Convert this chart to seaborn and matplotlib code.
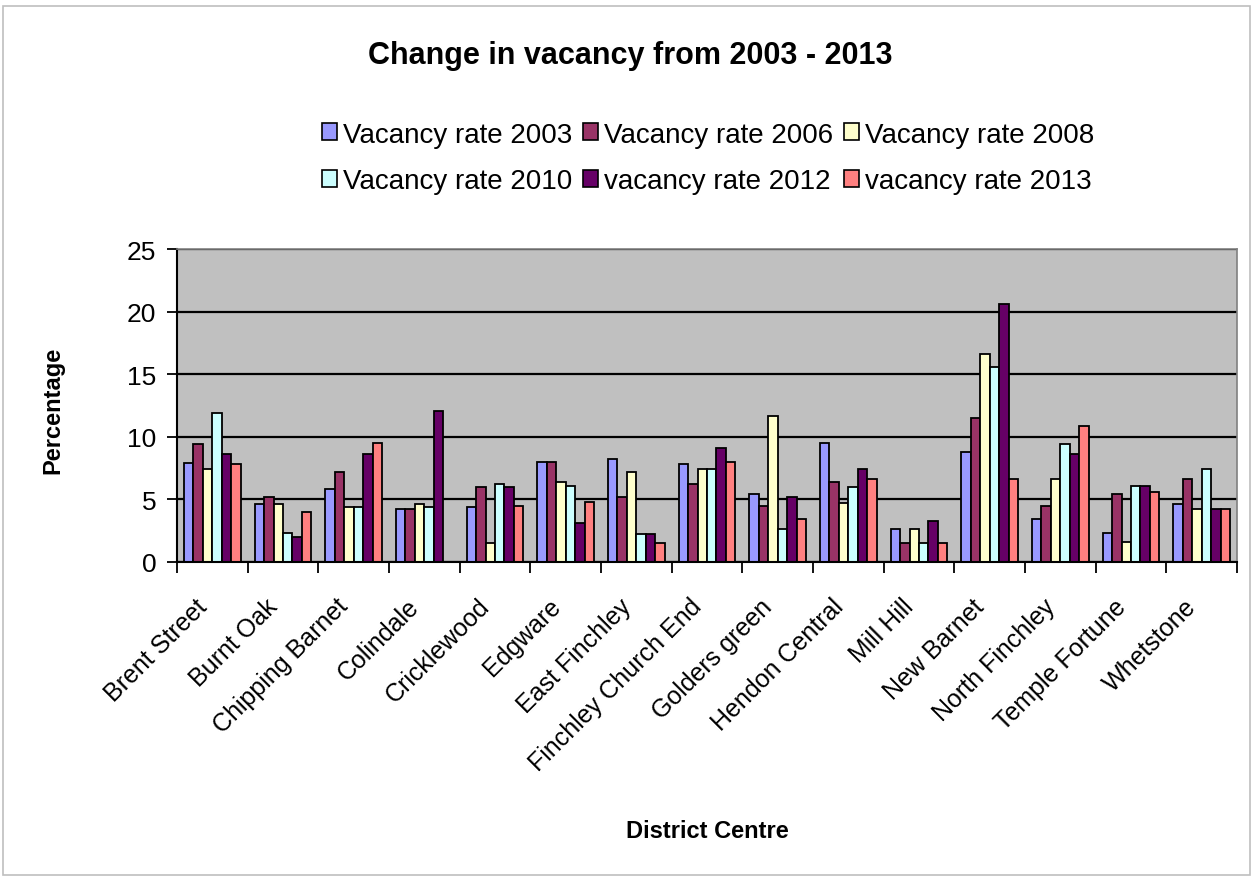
""" Vacancy rates in the district centres, 2003 - 2013

    Grouped bar chart, one group per district centre and one bar per survey year.
    """

import numpy as np
import pandas as pd
import matplotlib
matplotlib.use('Agg')
import matplotlib.pyplot as plt
from matplotlib.patches import Patch, Rectangle
import matplotlib.transforms as mtransforms
import seaborn as sns

# DATA
centres = ['Brent Street', 'Burnt Oak', 'Chipping Barnet', 'Colindale', 'Cricklewood',
           'Edgware', 'East Finchley', 'Finchley Church End', 'Golders green',
           'Hendon Central', 'Mill Hill', 'New Barnet', 'North Finchley',
           'Temple Fortune', 'Whetstone']

rate_2003 = [7.9, 4.6, 5.8, 4.2, 4.4, 8.0, 8.2, 7.8, 5.4, 9.5, 2.6, 8.8, 3.4, 2.3, 4.6]
rate_2006 = [9.4, 5.2, 7.2, 4.2, 6.0, 8.0, 5.2, 6.2, 4.5, 6.4, 1.5, 11.5, 4.5, 5.4, 6.6]
rate_2008 = [7.4, 4.6, 4.4, 4.6, 1.5, 6.4, 7.2, 7.4, 11.7, 4.7, 2.6, 16.6, 6.6, 1.6, 4.2]
rate_2010 = [11.9, 2.3, 4.4, 4.4, 6.2, 6.1, 2.2, 7.4, 2.6, 6.0, 1.5, 15.6, 9.4, 6.1, 7.4]
rate_2012 = [8.6, 2.0, 8.6, 12.1, 6.0, 3.1, 2.2, 9.1, 5.2, 7.4, 3.3, 20.6, 8.6, 6.1, 4.2]
rate_2013 = [7.8, 4.0, 9.5, np.nan, 4.5, 4.8, 1.5, 8.0, 3.4, 6.6, 1.5, 6.6, 10.9, 5.6, 4.2]

series_names = ['Vacancy rate 2003', 'Vacancy rate 2006', 'Vacancy rate 2008',
                'Vacancy rate 2010', 'vacancy rate 2012', 'vacancy rate 2013']
series_colors = ['#9999FF', '#993366', '#FFFFCC', '#CCFFFF', '#660066', '#FF8080']

y_ticks = [0, 5, 10, 15, 20, 25]


def build_frame():
    """ Long form table for seaborn """
    wide = pd.DataFrame(dict(zip(series_names,
                                 [rate_2003, rate_2006, rate_2008,
                                  rate_2010, rate_2012, rate_2013])))
    wide['centre'] = centres
    return wide.melt(id_vars='centre', var_name='series', value_name='rate')


def main():
    plt.rcParams['font.family'] = ['Liberation Sans', 'DejaVu Sans']

    data = build_frame()
    palette = dict(zip(series_names, series_colors))

    fig = plt.figure(figsize=(12.57, 8.79), dpi=100)
    ax = fig.add_axes([177 / 1257, 1 - 563 / 879, (1237 - 177) / 1257, (563 - 250) / 879])

    ax.set_facecolor('#C0C0C0')
    ax.set_axisbelow(True)
    ax.yaxis.grid(True, color='black', linewidth=1.6)

    sns.barplot(data=data, x='centre', y='rate', hue='series',
                order=centres, hue_order=series_names, palette=palette,
                saturation=1, errorbar=None, width=0.8,
                edgecolor='black', linewidth=1.3, legend=False, ax=ax)

    ax.set_ylim(0, 25)
    ax.set_xlim(-0.5, len(centres) - 0.5)
    ax.set_yticks(y_ticks)
    ax.tick_params(axis='y', labelsize=19, length=7, width=1.3, pad=8, color='black')

    # labels sit at the centres, tick marks at the category boundaries
    ax.set_xticks(range(len(centres)))
    ax.set_xticks(np.arange(-0.5, len(centres), 1), minor=True)
    ax.set_xticklabels(centres, rotation=45, ha='right', va='center',
                       rotation_mode='anchor', fontsize=18)
    ax.tick_params(axis='x', which='major', length=0, pad=29)
    ax.tick_params(axis='x', which='minor', length=8, width=1.3, direction='out')
    shift = mtransforms.ScaledTranslation(-9 / 100, 0, fig.dpi_scale_trans)
    for lab in ax.get_xticklabels():
        lab.set_transform(lab.get_transform() + shift)

    ax.set_xlabel('')
    ax.set_ylabel('')
    for side in ['left', 'bottom']:
        ax.spines[side].set_color('black')
        ax.spines[side].set_linewidth(1.5)
    for side in ['top', 'right']:
        ax.spines[side].set_color('#808080')
        ax.spines[side].set_linewidth(1.2)

    # titles
    fig.text(630 / 1257, 1 - 56 / 879, 'Change in vacancy from 2003 - 2013',
             ha='center', va='center', fontsize=22, fontweight='bold')
    fig.text(53 / 1257, 1 - 410 / 879, 'Percentage', rotation=90,
             ha='center', va='center', fontsize=17, fontweight='bold')
    fig.text(707 / 1257, 1 - 832 / 879, 'District Centre',
             ha='center', va='center', fontsize=17, fontweight='bold')

    # legend filled row by row
    handles = [Patch(facecolor=c, edgecolor='black', linewidth=1.2) for c in series_colors]
    order = [0, 3, 1, 4, 2, 5]
    fig.legend([handles[i] for i in order], [series_names[i] for i in order],
               ncol=3, loc='center', bbox_to_anchor=(708 / 1257, 1 - 159 / 879),
               frameon=False, fontsize=20, handlelength=0.55, handleheight=0.55,
               handletextpad=0.2, columnspacing=0.4, labelspacing=0.75)

    # outer chart border
    fig.patches.append(Rectangle((3 / 1257, 3 / 879), 1247 / 1257, 869 / 879,
                                 transform=fig.transFigure, fill=False,
                                 edgecolor='#BFBFBF', linewidth=1.2))

    fig.savefig('out.png', dpi=100)
    plt.close(fig)


if __name__ == '__main__':
    main()
